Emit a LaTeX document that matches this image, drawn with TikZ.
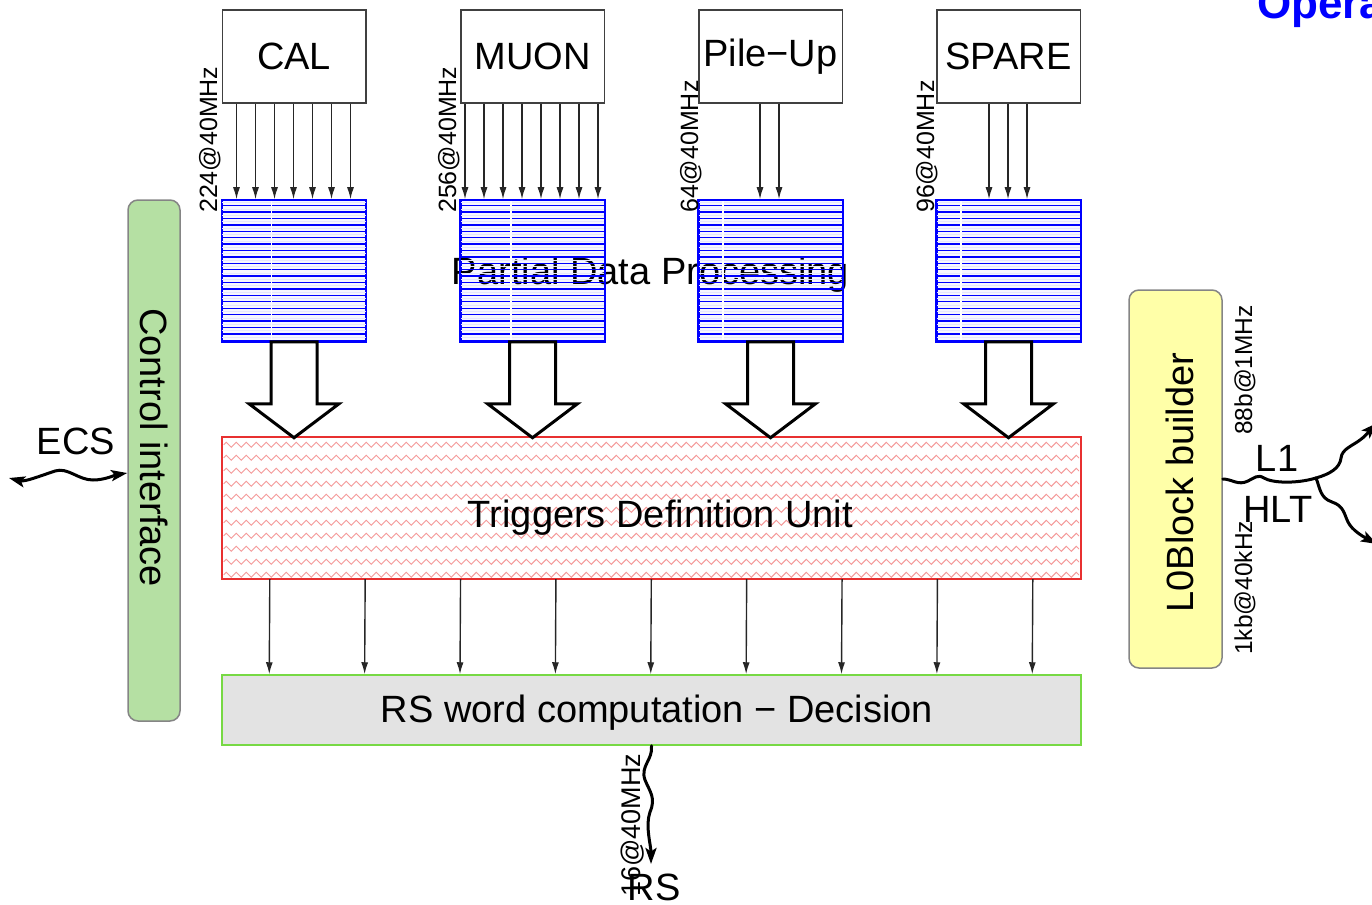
\documentclass[tikz,border=0pt]{standalone}
\usepackage{fontspec}
\setmainfont{Liberation Sans}
\usetikzlibrary{arrows.meta,calc,decorations.pathmorphing}

\definecolor{ciGreen}{HTML}{B5E0A3}
\definecolor{lbYellow}{HTML}{FFFFA8}
\definecolor{rwGray}{HTML}{E3E3E3}
\definecolor{rwEdge}{HTML}{77D944}
\definecolor{edgeGray}{HTML}{404040}
\definecolor{softGray}{HTML}{858585}
\definecolor{procBlue}{HTML}{0000FF}
\definecolor{procFill}{HTML}{F6F6FF}
\definecolor{zigRed}{HTML}{F59A9A}
\definecolor{tduRed}{HTML}{E83030}

% hollow block arrow below a processing box
\newcommand\bigdownarrow[1]{%
  \draw[line width=3pt,fill=white,line join=miter]
    ($(#1.south)+(-23,0)$) -- ++(0,62) -- ++(-22,0)
    -- ($(#1.south)+(0,96)$) -- ++(45,-34) -- ++(-22,0)
    -- ($(#1.south)+(23,0)$) -- cycle;}

\begin{document}
\begin{tikzpicture}[x=1pt,y=-1pt,
  big/.style={font=\fontsize{38}{41}\selectfont},
  small/.style={font=\fontsize{25}{28}\selectfont},
  smaller/.style={font=\fontsize{24.5}{28}\selectfont},
  srcbox/.style={draw=edgeGray,line width=1.5pt,fill=white,
    minimum width=143.5pt,minimum height=93pt,inner sep=0pt,big},
  procbox/.style={draw=procBlue,line width=1.5pt,fill=procFill,
    minimum width=143.5pt,minimum height=141pt,inner sep=0pt},
  stripe/.style={procBlue,line width=1.4pt},
  substripe/.style={procBlue!10,line width=0.6pt},
  zz/.style={zigRed,line width=0.9pt,decorate,
    decoration={zigzag,segment length=10pt,amplitude=2.5pt}},
  sarr/.style={-{Latex[length=12pt,width=7pt]},line width=1.4pt,draw=black!85},
  wave/.style={line width=3pt,line cap=round},
  wtip/.tip={Stealth[length=16pt,width=11pt,inset=3.5pt]},
  rot/.style={rotate=90,anchor=base west,inner sep=0pt}
]
\useasboundingbox (0,0) rectangle (1372,904);

% title fragment at the top right
\node[anchor=base west,inner sep=0pt,font=\fontsize{44}{48}\selectfont\bfseries,
  text=procBlue] (title) at (1257,19) {Opera};

% source boxes
\node[srcbox] (cal)    at (294,56.5)   {CAL};
\node[srcbox] (muon)   at (532.5,56.5) {MUON};
\node[srcbox] (pileup) at (770.5,56.5) {Pile−Up};
\node[srcbox] (spare)  at (1008.5,56.5){SPARE};

% partial data processing boxes
\node[procbox] (calp)    at (294,270.5)    {};
\node[procbox] (muonp)   at (532.5,270.5)  {};
\node[procbox] (pileupp) at (770.5,270.5)  {};
\node[procbox] (sparep)  at (1008.5,270.5) {};

\node[big,anchor=base,inner sep=0pt] (pdp) at (650.5,284) {Partial Data Processing};

% stripes of the processing boxes
\foreach \n/\s in {calp/50,muonp/51,pileupp/25,sparep/25}{
  \foreach \k in {1,...,22}
    \draw[substripe] ($(\n.north west)+(0.8,{141/22*(\k-0.5)})$) -- ($(\n.north east)+(-0.8,{141/22*(\k-0.5)})$);
  \foreach \k in {1,...,21}
    \draw[stripe] ($(\n.north west)+(0,{141/22*\k})$) -- ($(\n.north east)+(0,{141/22*\k})$);
  \draw[white,line width=1.2pt] ($(\n.north west)+(\s,1.5)$) -- ($(\n.south west)+(\s,-1.5)$);
  \draw[procBlue,line width=1.5pt] (\n.north west) rectangle (\n.south east);
}

% input links
\foreach \d in {15,34,53,72,91,110,129}
  \draw[sarr] ([xshift=\d pt]cal.south west) -- ([xshift=\d pt]calp.north west);
\foreach \d in {5,24,43,62,81,100,119,138}
  \draw[sarr] ([xshift=\d pt]muon.south west) -- ([xshift=\d pt]muonp.north west);
\foreach \d in {62,81}
  \draw[sarr] ([xshift=\d pt]pileup.south west) -- ([xshift=\d pt]pileupp.north west);
\foreach \d in {53,72,91}
  \draw[sarr] ([xshift=\d pt]spare.south west) -- ([xshift=\d pt]sparep.north west);

% input rates
\node[rot,small] (rcal)    at (217,213) {224@40MHz};
\node[rot,small] (rmuon)   at (456,213) {256@40MHz};
\node[rot,small] (rpileup) at (698,213) {64@40MHz};
\node[rot,small] (rspare)  at (934,213) {96@40MHz};

% triggers definition unit
\node[draw=none,fill=white,minimum width=859pt,minimum height=142pt,inner sep=0pt]
  (tdu) at (651.5,508) {};
\foreach \k in {0,...,10}
  \draw[zz] ($(tdu.north west)+(2,{8+13*\k})$) -- ($(tdu.north east)+(-2,{8+13*\k})$);
\draw[tduRed,line width=1.5pt] (tdu.north west) rectangle (tdu.south east);
\node[big,anchor=base,inner sep=0pt] (tdutext) at (660.5,527) {Triggers Definition Unit};

% block arrows into the unit
\foreach \n in {calp,muonp,pileupp,sparep} \bigdownarrow{\n};

% RS word box
\node[draw=rwEdge,fill=rwGray,line width=1.5pt,minimum width=859pt,minimum height=70pt,
  inner sep=0pt] (rsw) at (651.5,710) {};
\node[big,anchor=base,inner sep=0pt] (rswtext) at (657,722) {RS word computation − Decision};

\foreach \k in {0,...,8}
  \draw[sarr] ([xshift={48+95.375*\k}]tdu.south west) -- ([xshift={48+95.375*\k}]rsw.north west);

% control interface
\node[draw=softGray,fill=ciGreen,line width=1.5pt,rounded corners=10pt,
  minimum width=52pt,minimum height=521pt,inner sep=0pt] (ci) at (154,460.5) {};
\node[big,rotate=-90,inner sep=0pt] (citext) at (154.5,447.5) {Control interface};

\node[big,anchor=base,inner sep=0pt] (ecs) at (76,454) {ECS};
\coordinate (ecsL) at (9,478);
\draw[wave,wtip-wtip] (ecsL) .. controls (25,482) and (40,476) .. (55,471)
  .. controls (68,467) and (78,480) .. (93,480)
  .. controls (105,480) and (115,475) .. ([yshift=-12.5pt]ci.west);

% L0 block builder
\node[draw=softGray,fill=lbYellow,line width=1.5pt,rounded corners=10pt,
  minimum width=93pt,minimum height=378pt,inner sep=0pt] (l0) at (1175.5,479) {};
\node[big,rotate=90,inner sep=0pt] (l0text) at (1180,482.5) {L0Block builder};

\node[rot,smaller] (r88) at (1252,435) {88b@1MHz};
\node[rot,smaller] (r1k) at (1252,655) {1kb@40kHz};

\node[big,anchor=base,inner sep=0pt] (l1) at (1277,471) {L1};
\node[big,anchor=base,inner sep=0pt] (hlt) at (1278,522) {HLT};

\coordinate (br) at (1316,478);
\coordinate (l1end) at (1377,423);
\coordinate (hltend) at (1377,544);
\draw[wave] (l0.east) .. controls (1232,479) and (1238,486) .. (1248,481)
  .. controls (1254,478) and (1258,474) .. (1264,478)
  .. controls (1272,483) and (1296,484) .. (br);
\draw[wave,-wtip] (br) .. controls (1330,474) and (1340,468) .. (1341,458)
  .. controls (1342,449) and (1352,446) .. (1360,440)
  .. controls (1366,436) and (1370,430) .. (l1end);
\draw[wave,-wtip] (br) .. controls (1320,488) and (1320,498) .. (1332,502)
  .. controls (1344,506) and (1344,514) .. (1348,522)
  .. controls (1352,530) and (1362,536) .. (hltend);

% RS output
\coordinate (rsend) at (651,864);
\draw[wave,-wtip] (rsw.south) .. controls (653,760) and (640,766) .. (645,780)
  .. controls (650,792) and (656,798) .. (650,812)
  .. controls (645,826) and (651,845) .. (rsend);
\node[rot,font=\fontsize{27}{30}\selectfont] (r16) at (640,897) {16@40MHz};
\node[big,anchor=base,inner sep=0pt] (rs) at (654,900) {RS};
\end{tikzpicture}
\end{document}
